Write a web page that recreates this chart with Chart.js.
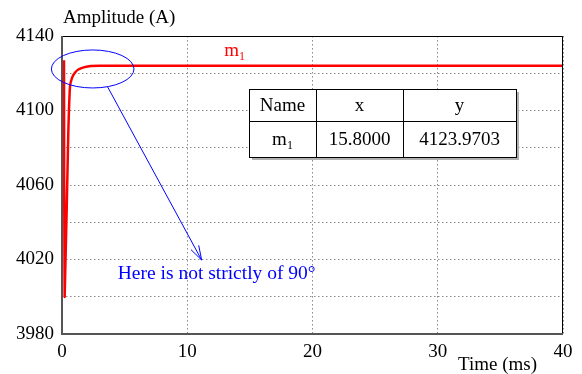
<!DOCTYPE html>
<html>
<head>
<meta charset="utf-8">
<script src="https://cdn.jsdelivr.net/npm/chart.js@4/dist/chart.umd.min.js"></script>
<style>
  html, body { margin: 0; padding: 0; background: #fff; }
</style>
</head>
<body>
<canvas id="ampChart" width="582" height="374"></canvas>
<script>
// === Data ===
const timeMs    = [0.16, 0.21, 0.5, 0.64, 0.8, 1.0, 1.3, 1.8, 2.3, 3.0, 40];
const amplitude = [4127, 4000, 4087, 4113, 4117.5, 4120, 4122, 4123.3, 4123.9, 4124, 4124];
const xTicks = [0, 10, 20, 30, 40];
const yLabelTicks = [3980, 4020, 4060, 4100, 4140];
const tableHeader = ["Name", "x", "y"];
const tableRow = ["m1", "15.8000", "4123.9703"];

const SERIF = "'Liberation Serif', 'Times New Roman', serif";
const FONT = "19px " + SERIF;

// draws "m" with a subscript "1"
const drawSub = (ctx, base, sub, x, yBase, align) => {
  ctx.font = FONT;
  const w1 = ctx.measureText(base).width;
  ctx.font = "12px " + SERIF;
  const w2 = ctx.measureText(sub).width;
  let left = x;
  if (align === "center") left = x - (w1 + w2) / 2;
  ctx.textAlign = "left";
  ctx.textBaseline = "alphabetic";
  ctx.font = FONT;
  ctx.fillText(base, left, yBase);
  ctx.font = "12px " + SERIF;
  ctx.fillText(sub, left + w1, yBase + 4);
};

// === Annotations, frame and table ===
const overlay = {
  id: "overlay",
  afterDraw(chart) {
    const { ctx, chartArea: a, scales: { x, y } } = chart;
    ctx.save();

    // frame
    ctx.strokeStyle = "#000";
    ctx.lineWidth = 1;
    ctx.beginPath();
    ctx.moveTo(a.left, a.top + 0.5);
    ctx.lineTo(a.right - 0.5, a.top + 0.5);
    ctx.lineTo(a.right - 0.5, a.bottom);
    ctx.stroke();
    ctx.strokeStyle = "#555";
    ctx.lineWidth = 2;
    ctx.beginPath();
    ctx.moveTo(a.left, a.top);
    ctx.lineTo(a.left, a.bottom);
    ctx.lineTo(a.right, a.bottom);
    ctx.stroke();

    // axis titles
    ctx.fillStyle = "#000";
    ctx.font = FONT;
    ctx.textBaseline = "middle";
    ctx.textAlign = "left";
    ctx.fillText("Amplitude (A)", a.left + 1, 18);
    ctx.fillText("Time (ms)", 458, 365);

    // series label
    ctx.fillStyle = "#ff0000";
    drawSub(ctx, "m", "1", x.getPixelForValue(12.95), y.getPixelForValue(4129.5), "left");

    // ellipse + arrow + note
    ctx.strokeStyle = "#0000ff";
    ctx.lineWidth = 1;
    const cx = x.getPixelForValue(2.45), cy = y.getPixelForValue(4122.3);
    ctx.beginPath();
    ctx.ellipse(cx, cy, 41.3, 19, 0, 0, Math.PI * 2);
    ctx.stroke();

    const x0 = x.getPixelForValue(3.65), y0 = y.getPixelForValue(4112.6);
    const x1 = x.getPixelForValue(11.15), y1 = y.getPixelForValue(4019.7);
    ctx.beginPath();
    ctx.moveTo(x0, y0);
    ctx.lineTo(x1, y1);
    const ang = Math.atan2(y1 - y0, x1 - x0);
    const head = 15, spread = 0.3;
    ctx.moveTo(x1 - head * Math.cos(ang - spread), y1 - head * Math.sin(ang - spread));
    ctx.lineTo(x1, y1);
    ctx.lineTo(x1 - head * Math.cos(ang + spread), y1 - head * Math.sin(ang + spread));
    ctx.stroke();

    ctx.fillStyle = "#0000ff";
    ctx.font = "19.5px " + SERIF;
    ctx.textAlign = "left";
    ctx.textBaseline = "middle";
    ctx.fillText("Here is not strictly of 90\u00b0", x.getPixelForValue(4.45), y.getPixelForValue(4012.5));

    // data table
    const tl = 249, tr = 516, tt = 89, tm = 121, tb = 157;
    const cols = [tl, 316, 403, tr];
    ctx.fillStyle = "#b0b0b0";
    ctx.fillRect(tl + 3, tt + 3, tr - tl, tb - tt);
    ctx.fillStyle = "#fff";
    ctx.fillRect(tl, tt, tr - tl, tb - tt);
    ctx.strokeStyle = "#000";
    ctx.lineWidth = 1;
    ctx.strokeRect(tl + 0.5, tt + 0.5, tr - tl, tb - tt);
    ctx.beginPath();
    ctx.moveTo(tl, tm + 0.5);
    ctx.lineTo(tr, tm + 0.5);
    cols.slice(1, 3).forEach(c => {
      ctx.moveTo(c + 0.5, tt);
      ctx.lineTo(c + 0.5, tb);
    });
    ctx.stroke();

    ctx.fillStyle = "#000";
    ctx.font = FONT;
    ctx.textAlign = "center";
    ctx.textBaseline = "middle";
    tableHeader.forEach((t, i) => {
      ctx.fillText(t, (cols[i] + cols[i + 1]) / 2, (tt + tm) / 2 + 1);
    });
    tableRow.forEach((t, i) => {
      const mid = (cols[i] + cols[i + 1]) / 2;
      if (i === 0) {
        drawSub(ctx, t[0], t.slice(1), mid, (tm + tb) / 2 + 6, "center");
      } else {
        ctx.font = FONT;
        ctx.textAlign = "center";
        ctx.textBaseline = "middle";
        ctx.fillText(t, mid, (tm + tb) / 2 + 1);
      }
    });

    ctx.restore();
  }
};

// === Chart ===
const ctx = document.getElementById("ampChart");

new Chart(ctx, {
  type: "line",
  data: {
    datasets: [{
      label: "m1",
      data: timeMs.map((t, i) => ({ x: t, y: amplitude[i] })),
      borderColor: "#ff0000",
      borderWidth: 2.5,
      pointRadius: 0,
      tension: 0.2,
      fill: false,
    }],
  },
  options: {
    responsive: false,
    animation: false,
    devicePixelRatio: 1,
    layout: { padding: { left: 0, top: 36, right: 19, bottom: 0 } },
    plugins: {
      legend: { display: false },
      tooltip: { enabled: false },
    },
    scales: {
      x: {
        type: "linear",
        min: 0,
        max: 40,
        afterBuildTicks: (scale) => { scale.ticks = xTicks.map(v => ({ value: v })); },
        afterFit: (scale) => { scale.height = 40; },
        grid: { color: "#8a8a8a", lineWidth: 1, drawTicks: false },
        border: { display: false, dash: [1.5, 2.5] },
        ticks: { color: "#000", font: { family: SERIF, size: 19 }, padding: 7, maxRotation: 0 },
      },
      y: {
        min: 3980,
        max: 4140,
        ticks: {
          stepSize: 20,
          color: "#000",
          font: { family: SERIF, size: 19 },
          padding: 8,
          callback: (v) => (yLabelTicks.includes(v) ? String(v) : ""),
        },
        afterFit: (scale) => { scale.width = 62; },
        grid: { color: "#8a8a8a", lineWidth: 1, drawTicks: false },
        border: { display: false, dash: [1.5, 2.5] },
      },
    },
  },
  plugins: [overlay],
});
</script>
</body>
</html>
